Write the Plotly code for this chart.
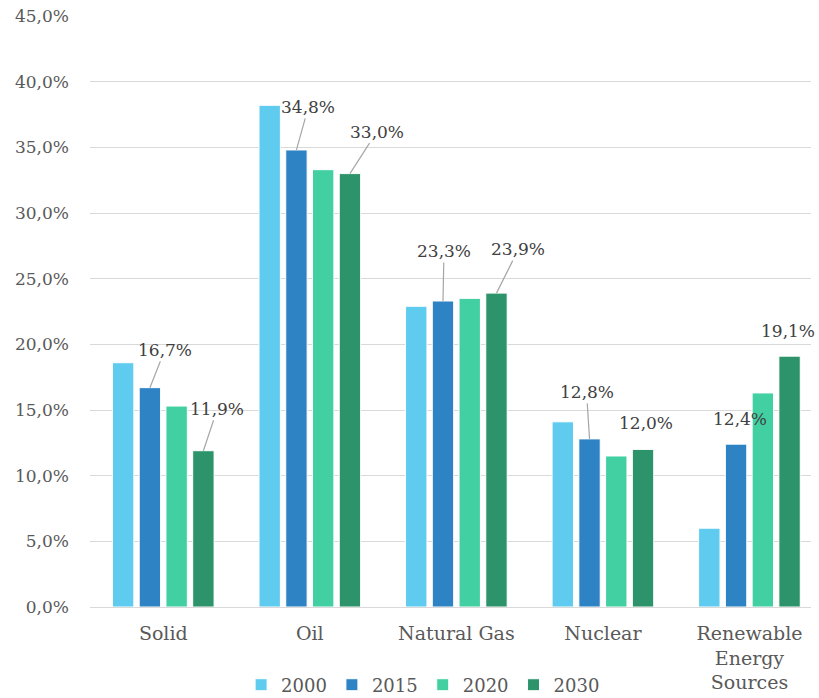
import plotly.graph_objects as go

categories = ["Solid", "Oil", "Natural Gas", "Nuclear", "Renewable<br>Energy<br>Sources"]
series_names = ["2000", "2015", "2020", "2030"]
v2000 = [18.6, 38.2, 22.9, 14.1, 6.0]
v2015 = [16.7, 34.8, 23.3, 12.8, 12.4]
v2020 = [15.3, 33.3, 23.5, 11.5, 16.3]
v2030 = [11.9, 33.0, 23.9, 12.0, 19.1]
colors = ["#5ecbef", "#2e83c4", "#42d0a2", "#2c936b"]
y_ticks = [0, 5, 10, 15, 20, 25, 30, 35, 40, 45]

# label offsets (pixels) for the labelled series: (ax, ay, show_line)
lab2015 = [(15, -38, True), (12, -43, True), (1, -50, True), (-3, -47, True), (4, -25, False)]
lab2030 = [(14, -42, True), (27, -42, True), (22, -44, True), (3, -26, False), (-2, -25, False)]

FONT = "DejaVu Serif"
GRAY = "#595959"
FS = 17

fig = go.Figure()
all_vals = [v2000, v2015, v2020, v2030]
for name, vals, col in zip(series_names, all_vals, colors):
    fig.add_trace(go.Bar(
        name=name, x=list(range(len(categories))), y=vals,
        marker=dict(color=col, line=dict(color="white", width=1)),
    ))

bargap = 0.27
slot = (1 - bargap) / 4
annotations = []
for sidx, vals, labs in [(1, v2015, lab2015), (3, v2030, lab2030)]:
    off = (sidx - 1.5) * slot
    for i, (v, (ax, ay, line)) in enumerate(zip(vals, labs)):
        annotations.append(dict(
            x=i + off, y=v, xref="x", yref="y",
            text=f"{v:.1f}%".replace(".", ","),
            showarrow=True, arrowhead=0, arrowwidth=1.2,
            arrowcolor="#a6a6a6" if line else "rgba(0,0,0,0)",
            ax=ax, ay=ay, standoff=0,
            font=dict(family=FONT, size=FS, color="#404040"),
        ))

fig.update_layout(
    width=819, height=712,
    margin=dict(l=90, r=8, t=16, b=93),
    paper_bgcolor="white", plot_bgcolor="white",
    barmode="group", bargap=bargap, bargroupgap=0.2,
    separators=",.",
    font=dict(family=FONT, size=FS, color=GRAY),
    showlegend=True,
    legend=dict(orientation="h", x=0.462, xanchor="center", y=-0.132, yanchor="middle",
                font=dict(family=FONT, size=18, color=GRAY), itemwidth=30,
                traceorder="normal"),
    xaxis=dict(tickmode="array", tickvals=list(range(len(categories))), ticktext=categories,
               range=[-0.5, 4.42], showgrid=False, showline=False, ticks="",
               automargin=False, ticklabelstandoff=13,
               tickfont=dict(family=FONT, size=19, color=GRAY)),
    yaxis=dict(range=[0, 45], tickvals=y_ticks,
               ticktext=[f"{t:.1f}%".replace(".", ",") for t in y_ticks],
               showgrid=True, gridcolor="#d9d9d9", gridwidth=1.3,
               zeroline=True, zerolinecolor="#d9d9d9", zerolinewidth=1.3,
               showline=False, ticks="", ticklabelstandoff=20, automargin=False,
               tickfont=dict(family=FONT, size=FS, color=GRAY)),
    annotations=annotations,
)

fig.write_html(
    "out.html",
    config={"displayModeBar": False},
    post_script=(
        "document.documentElement.style.overflow='hidden';"
        "document.body.style.margin='0';"
        "document.body.style.overflow='hidden';"
        "var g=document.getElementById('{plot_id}');"
        "g.style.position='fixed';g.style.top='0';g.style.left='0';"
    ),
)
